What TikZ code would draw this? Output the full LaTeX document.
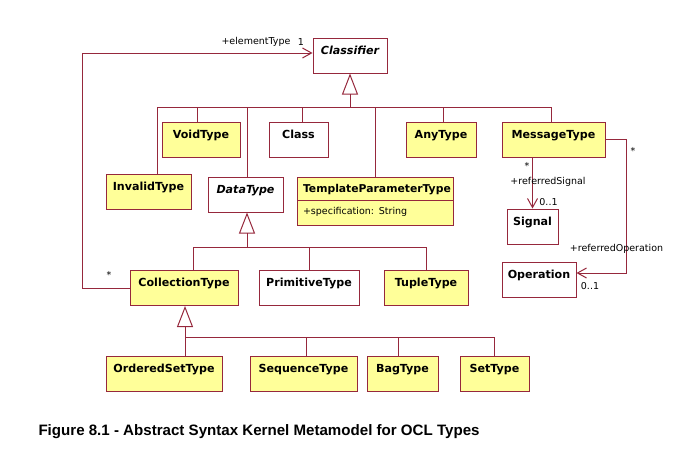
\documentclass[tikz,border=0pt]{standalone}
\usepackage{fontspec}
\newfontfamily\boxfont{DejaVu Sans}
\newfontfamily\capfont{Liberation Sans}
\usetikzlibrary{positioning,arrows.meta,shapes.multipart}
\definecolor{umlred}{RGB}{150,40,60}
\definecolor{umlyellow}{RGB}{255,255,153}

\begin{document}
\begin{tikzpicture}[x=1pt,y=-1pt,line width=1pt,
    cls/.style={draw=umlred,fill=umlyellow,minimum height=35pt,inner sep=0pt,text height=9pt,text depth=12pt,font=\boxfont\bfseries\fontsize{11.1}{13}\selectfont},
    plain cls/.style={cls,fill=white},
    abstract cls/.style={plain cls,font=\boxfont\bfseries\itshape\fontsize{11.1}{13}\selectfont},
    lbl/.style={font=\boxfont\fontsize{9.5}{11}\selectfont,inner sep=0pt},
    gen/.style={draw=umlred,-{Triangle[open,length=21pt,width=16pt]}},
    link/.style={draw=umlred},
    assoc/.style={draw=umlred,-{Straight Barb[length=9pt,width=10pt]}}]
    \useasboundingbox (0,0) rectangle (674,450);

    % classes
    \node[abstract cls,minimum width=74pt] (classifier) at (350,55.5) {Classifier};
    \node[cls,minimum width=78pt] (voidtype) at (201,139.5) {VoidType};
    \node[plain cls,minimum width=59pt] (class) [right=28pt of voidtype] {Class};
    \node[cls,minimum width=70pt] (anytype) [right=77pt of class] {AnyType};
    \node[cls,minimum width=103pt] (messagetype) [right=25pt of anytype] {MessageType};
    \node[cls,minimum width=85pt] (invalidtype) at (148.5,191.5) {InvalidType};
    \node[abstract cls,minimum width=75pt] (datatype) at (245.5,194.5) {DataType};
    \node[draw=umlred,fill=umlyellow,rectangle split,rectangle split parts=2,text width=144pt,align=left,
          inner xsep=6pt,inner ysep=4.5pt,anchor=north,font=\boxfont\fontsize{9.5}{11}\selectfont] (tpltype) at (375,177)
        {\rule[-3pt]{0pt}{13pt}\bfseries\fontsize{10.8}{12}\selectfont TemplateParameterType\nodepart{two}\rule[-6pt]{0pt}{15pt}+specification: String};
    \node[plain cls,minimum width=51pt] (signal) at (532.5,226.5) {Signal};
    \node[plain cls,minimum width=74pt] (operation) at (539,279.5) {Operation};
    \node[cls,minimum width=108pt] (collectiontype) at (184,288) {CollectionType};
    \node[plain cls,minimum width=100pt] (primitivetype) [right=20pt of collectiontype] {PrimitiveType};
    \node[cls,minimum width=84pt] (tupletype) [right=24pt of primitivetype] {TupleType};
    \node[cls,minimum width=116pt] (orderedsettype) at (164,373.5) {OrderedSetType};
    \node[cls,minimum width=107pt] (sequencetype) [right=27pt of orderedsettype] {SequenceType};
    \node[cls,minimum width=71pt] (bagtype) [right=9pt of sequencetype] {BagType};
    \node[cls,minimum width=69pt] (settype) [right=21pt of bagtype] {SetType};

    % generalizations
    \coordinate (cbar) at (350,107);
    \draw[gen] (cbar) -- (classifier);
    \draw[link] (cbar) -| ([xshift=8.5pt]invalidtype.north);
    \draw[link] (cbar) -| ([xshift=-4pt]voidtype.north);
    \draw[link] (cbar) -| ([xshift=3.5pt]class.north);
    \draw[link] (cbar) -| ([xshift=1.5pt]datatype.north);
    \draw[link] (cbar) -| (tpltype.north);
    \draw[link] (cbar) -| ([xshift=2pt]anytype.north);
    \draw[link] (cbar) -| ([xshift=-2.5pt]messagetype.north);

    \coordinate (dbar) at (247,247);
    \draw[gen] (dbar) -- (dbar |- datatype.south);
    \draw[link] (dbar) -| ([xshift=9pt]collectiontype.north);
    \draw[link] (dbar) -| (primitivetype.north);
    \draw[link] (dbar) -| (tupletype.north);

    \coordinate (sbar) at (185,337);
    \draw[gen] (sbar) -- (sbar |- collectiontype.south);
    \draw[link] (sbar) -- (sbar |- orderedsettype.north);
    \draw[link] (sbar) -| ([xshift=2.5pt]sequencetype.north);
    \draw[link] (sbar) -| ([xshift=-4.5pt]bagtype.north);
    \draw[link] (sbar) -| (settype.north);

    % associations
    \draw[assoc] (collectiontype.west) -- ++(-47,0) |- ([yshift=2.5pt]classifier.west);
    \node[lbl] (elemrole) at (256,42) {+elementType};
    \node[lbl] (elemone) at (301,42) {1};
    \node[lbl] (elemmany) at (109,275) {*};

    \draw[assoc] (messagetype.south -| signal.north) -- (signal.north);
    \node[lbl] (sigmany) at (527,166) {*};
    \node[lbl] (sigrole) at (548,182) {+referredSignal};
    \node[lbl] (sigone) at (548.5,202) {0..1};

    \draw[assoc] (messagetype.east) -- ++(21,0) |- ([yshift=6.5pt]operation.east);
    \node[lbl] (opmany) at (633,151) {*};
    \node[lbl] (oprole) at (616.5,249) {+referredOperation};
    \node[lbl] (opone) at (590,286) {0..1};

    \node[anchor=west,inner sep=0pt,font=\capfont\bfseries\fontsize{15.1}{18}\selectfont] (caption) at (38,432)
        {Figure 8.1 - Abstract Syntax Kernel Metamodel for OCL Types};
\end{tikzpicture}
\end{document}
